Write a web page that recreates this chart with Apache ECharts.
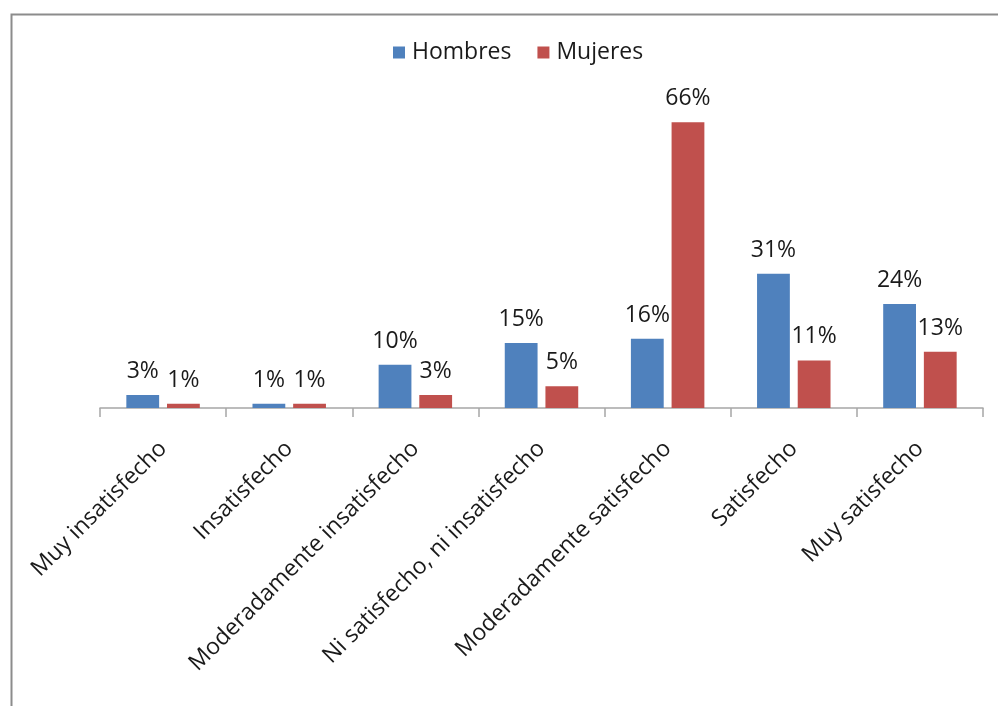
<!DOCTYPE html>
<html>
<head>
<meta charset="utf-8">
<script src="https://cdn.jsdelivr.net/npm/echarts@6/dist/echarts.min.js"></script>
<style>
html,body{margin:0;padding:0;background:#fff;}
#chart{width:998px;height:706px;}
</style>
</head>
<body>
<div id="chart"></div>
<script>
const categories = ["Muy insatisfecho", "Insatisfecho", "Moderadamente insatisfecho", "Ni satisfecho, ni insatisfecho", "Moderadamente satisfecho", "Satisfecho", "Muy satisfecho"];
const seriesNames = ["Hombres", "Mujeres"];
const hombres = [3, 1, 10, 15, 16, 31, 24];
const mujeres = [1, 1, 3, 5, 66, 11, 13];

const FONT = "Open Sans";
const chart = echarts.init(document.getElementById('chart'), null, {renderer: 'canvas'});
const labelCfg = {
  show: true, position: 'top', distance: 12,
  formatter: '{c}%', fontFamily: FONT, fontSize: 23, color: '#1a1a1a'
};
chart.setOption({
  animation: false,
  backgroundColor: '#fff',
  textStyle: {fontFamily: FONT},
  graphic: [{
    type: 'rect', left: 9, top: 12, z: 100,
    shape: {width: 1000, height: 700},
    style: {fill: 'none', stroke: '#8c8c8c', lineWidth: 2}
  }],
  legend: {
    left: 388, top: 36,
    itemWidth: 12, itemHeight: 12, itemGap: 26,
    icon: 'rect',
    textStyle: {fontFamily: FONT, fontSize: 23, color: '#1a1a1a', padding: [0, 0, 0, 2]},
    data: seriesNames
  },
  grid: {left: 100, right: 15, top: 105, bottom: 298, containLabel: false},
  xAxis: {
    type: 'category', data: categories,
    axisLine: {lineStyle: {color: '#a6a6a6', width: 1.5}},
    axisTick: {show: true, length: 9, lineStyle: {color: '#a6a6a6', width: 1.5}},
    axisLabel: {rotate: 45, margin: 37, interval: 0, fontFamily: FONT, fontSize: 23, color: '#1a1a1a'}
  },
  yAxis: {
    type: 'value', min: 0, max: 70, show: false,
    splitLine: {show: false}
  },
  series: [
    {name: seriesNames[0], type: 'bar', data: hombres, barWidth: '26%', barGap: '24%',
     itemStyle: {color: '#4F81BD'}, label: labelCfg},
    {name: seriesNames[1], type: 'bar', data: mujeres, barWidth: '26%', barGap: '24%',
     itemStyle: {color: '#C0504D'}, label: labelCfg}
  ]
});
</script>
</body>
</html>
